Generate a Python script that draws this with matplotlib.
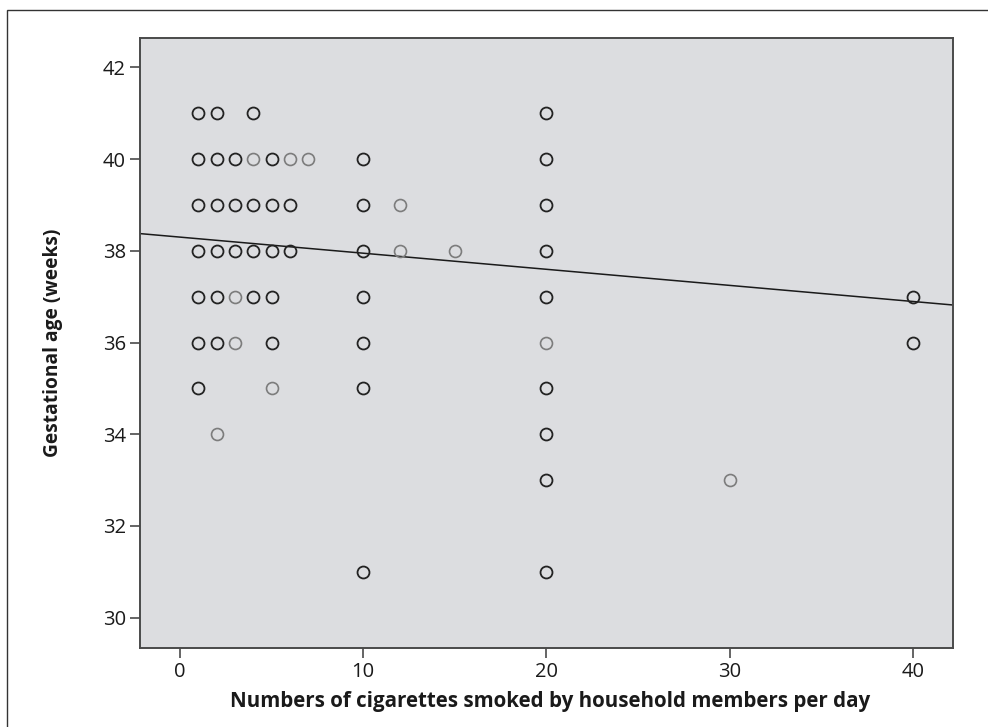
import matplotlib
matplotlib.use("Agg")
import matplotlib.pyplot as plt
from matplotlib.patches import Rectangle

# cigarettes per day vs gestational age
dark_x = [1, 2, 4, 20,
          1, 2, 3, 5, 10, 20,
          1, 2, 3, 4, 5, 6, 10, 20,
          1, 2, 3, 4, 5, 6, 10, 20,
          1, 2, 4, 5, 10, 20, 40,
          1, 2, 5, 10, 40,
          1, 10, 20,
          20,
          20,
          10, 20]
dark_y = [41, 41, 41, 41,
          40, 40, 40, 40, 40, 40,
          39, 39, 39, 39, 39, 39, 39, 39,
          38, 38, 38, 38, 38, 38, 38, 38,
          37, 37, 37, 37, 37, 37, 37,
          36, 36, 36, 36, 36,
          35, 35, 35,
          34,
          33,
          31, 31]

gray_x = [4, 6, 7, 12, 12, 15, 3, 3, 20, 5, 2, 30]
gray_y = [40, 40, 40, 39, 38, 38, 37, 36, 36, 35, 34, 33]

# fit line as drawn in the figure
intercept = 38.30
slope = -0.0351

xticks = [0, 10, 20, 30, 40]
yticks = [30, 32, 34, 36, 38, 40, 42]
xlim = (-2.18, 42.18)
ylim = (29.33, 42.65)

plt.rcParams['font.family'] = ['Open Sans', 'DejaVu Sans']

fig = plt.figure(figsize=(9.88, 7.27), dpi=100)
ax = fig.add_axes([140/988, 1 - 648.3/727, 812.7/988, 610.6/727])
ax.set_facecolor('#dcdde0')

ax.plot(gray_x, gray_y, 'o', mfc='none', mec='#7c7c7c', ms=8.6, mew=1.2, zorder=3)
ax.plot(dark_x, dark_y, 'o', mfc='none', mec='#222222', ms=8.6, mew=1.3, zorder=3)

ax.plot(list(xlim), [intercept + slope * v for v in xlim], color='#1a1a1a', lw=1.1, zorder=2)

ax.set_xlim(*xlim)
ax.set_ylim(*ylim)
ax.set_xticks(xticks)
ax.set_yticks(yticks)

for s in ax.spines.values():
    s.set_color('#4a4a4a')
    s.set_linewidth(1.4)
ax.tick_params(direction='out', length=7, width=1.2, color='#4a4a4a',
               labelsize=14.5, labelcolor='#1a1a1a', pad=3)

ax.set_xlabel('Numbers of cigarettes smoked by household members per day',
              fontsize=14.8, fontweight='bold', color='#1a1a1a', va='center')
ax.xaxis.set_label_coords(0.505, -0.087)
ax.set_ylabel('Gestational age (weeks)', fontsize=13.8, fontweight='bold',
              color='#1a1a1a', va='center')
ax.yaxis.set_label_coords(-0.107, 0.5)

# outer frame around the whole figure
fig.patches.append(Rectangle((7/988, -0.05), 1.1, 1 - 10.3/727 + 0.05,
                             transform=fig.transFigure, fill=False,
                             edgecolor='#333333', lw=1.0))

fig.savefig('out.png', dpi=100)
